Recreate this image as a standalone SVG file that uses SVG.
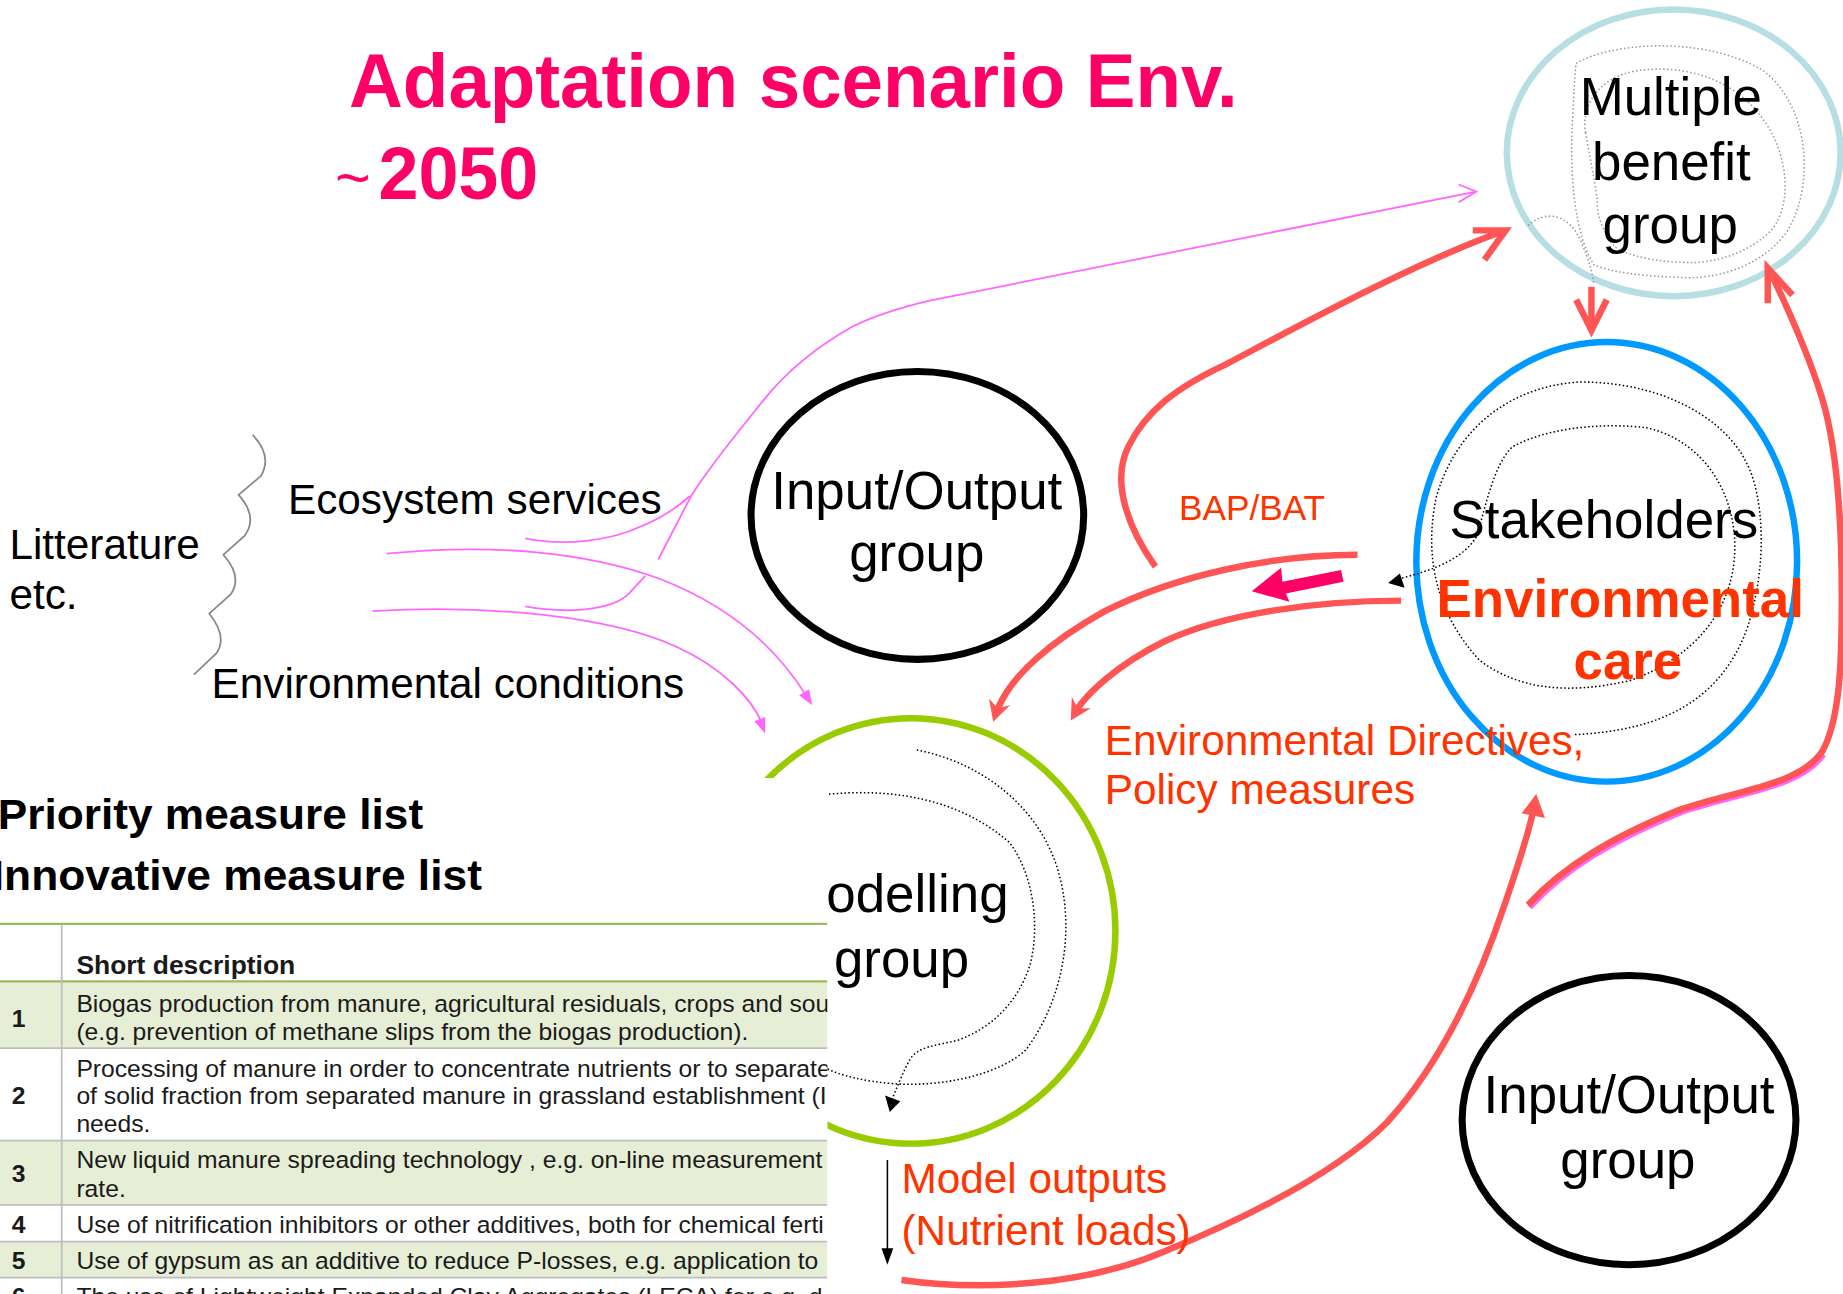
<svg xmlns="http://www.w3.org/2000/svg" width="1843" height="1294" viewBox="0 0 1843 1294">
<style>
.t{font-family:"Liberation Sans",Arial,Helvetica,sans-serif}
.b{font-weight:bold}
.node{fill:none}
.red{fill:none;stroke:#FF5555;stroke-width:5.5}
.redv{fill:none;stroke:#FF5555;stroke-width:5.5;stroke-linejoin:miter}
.redf{fill:#FF5555}
.pink{fill:none;stroke:#FF66FF;stroke-width:1.5}
.pinkf{fill:#FF66FF}
.dot{fill:none;stroke:#000;stroke-width:1.3;stroke-dasharray:1.3 2}
.dotg{fill:none;stroke:#999;stroke-width:1.3;stroke-dasharray:1.3 2}
.lbl{fill:#FF3300}
.row{fill:#E6EED6}
.grid{stroke:#BFBFBF;stroke-width:1.5}
.gline{stroke:#9BBB59;stroke-width:2}
.cell{font-size:21px;fill:#1a1a1a}
.num{font-size:21px;fill:#1a1a1a;font-weight:bold}
</style>
<defs>
<clipPath id="tclip"><rect x="0" y="662" width="704" height="440"/></clipPath>
</defs>
<rect width="1843" height="1294" fill="#fff"/>
<g transform="scale(1.17536)">

<g id="title" class="t" fill="#FF0066">
<text x="297" y="91" font-size="65" class="b" textLength="756" lengthAdjust="spacingAndGlyphs">Adaptation scenario Env.</text>
<text x="285" y="169" font-size="52">~</text>
<text x="322" y="169" font-size="63" class="b" textLength="136" lengthAdjust="spacingAndGlyphs">2050</text>
</g>

<g id="node-modelling">
<ellipse cx="775" cy="792" rx="174" ry="181" class="node" stroke="#99CC00" stroke-width="5.5"/>
<path class="dot" d="M780,638 C840,650 885,690 900,740 C915,790 905,850 873,893 C850,915 800,925 760,922 C735,920 715,915 703,909"/>
<path class="dot" d="M702,676 C760,670 817,680 859,717 C880,745 885,790 876,822 C866,852 845,874 815,885 C795,890 783,890 775,900 C768,912 762,928 758,938"/>
<polygon points="757,946 753,932 766,937" fill="#000"/>
<text class="t" x="703" y="776" font-size="45">odelling</text>
<text class="t" x="709.5" y="831" font-size="45">group</text>
</g>

<g id="table" class="t">
<rect x="0" y="662" width="704" height="440" fill="#fff"/>
<text x="-2" y="705.5" font-size="36" class="b" textLength="362" lengthAdjust="spacingAndGlyphs">Priority measure list</text>
<text x="-7" y="757" font-size="36" class="b" textLength="417" lengthAdjust="spacingAndGlyphs">Innovative measure list</text>
<g clip-path="url(#tclip)">
<rect class="row" x="0" y="835.2" width="704" height="56.6"/>
<rect class="row" x="0" y="970.5" width="704" height="54.7"/>
<rect class="row" x="0" y="1056.4" width="704" height="30.6"/>
<line class="gline" x1="0" y1="786" x2="704" y2="786"/>
<line class="gline" x1="0" y1="835" x2="704" y2="835"/>
<line class="grid" x1="0" y1="891.8" x2="704" y2="891.8"/>
<line class="grid" x1="0" y1="970.5" x2="704" y2="970.5"/>
<line class="grid" x1="0" y1="1025.2" x2="704" y2="1025.2"/>
<line class="grid" x1="0" y1="1056.4" x2="704" y2="1056.4"/>
<line class="grid" x1="0" y1="1087" x2="704" y2="1087"/>
<line class="grid" x1="52.5" y1="787" x2="52.5" y2="1101"/>
<text x="65" y="828.7" font-size="22.5" class="b" fill="#1a1a1a">Short description</text>
<text class="num" x="10" y="873.5">1</text>
<text class="num" x="10" y="939">2</text>
<text class="num" x="10" y="1006">3</text>
<text class="num" x="10" y="1049.3">4</text>
<text class="num" x="10" y="1080">5</text>
<text class="num" x="10" y="1110">6</text>
<text class="cell" x="65" y="860.7">Biogas production from manure, agricultural residuals, crops and sou</text>
<text class="cell" x="65" y="884.8">(e.g. prevention of methane slips from the biogas production).</text>
<text class="cell" x="65" y="916">Processing of manure in order to concentrate nutrients or to separate</text>
<text class="cell" x="65" y="939.3">of solid fraction from separated manure in grassland establishment (I</text>
<text class="cell" x="65" y="963.4">needs.</text>
<text class="cell" x="65" y="994">New liquid manure spreading technology , e.g. on-line measurement</text>
<text class="cell" x="65" y="1018">rate.</text>
<text class="cell" x="65" y="1049.3">Use of nitrification inhibitors or other additives, both for chemical ferti</text>
<text class="cell" x="65" y="1080">Use of gypsum as an additive to reduce P-losses, e.g. application to</text>
<text class="cell" x="65" y="1110">The use of Lightweight Expanded Clay Aggregates (LECA) for e.g. d</text>
</g>
</g>

<g id="node-multiple-benefit">
<ellipse cx="1424" cy="130" rx="142" ry="122" class="node" stroke="#B7DFE3" stroke-width="5.5"/>
<path class="dotg" d="M1341,54 C1370,36 1450,30 1500,60 C1540,90 1545,160 1519,199 C1495,230 1455,238 1429,236 C1400,235 1370,232 1356,225 C1340,200 1335,150 1338,100 C1339,80 1340,60 1341,54 Z"/>
<path class="dotg" d="M1300,192 C1315,178 1335,182 1345,205 C1352,222 1355,232 1356,242"/>
<path class="dotg" d="M1349,113 C1345,90 1360,65 1394,60 C1430,55 1470,65 1495,95 C1525,130 1525,180 1504,199 C1480,220 1450,225 1429,223 C1400,222 1380,215 1374,210 C1362,195 1358,180 1359,170 C1356,150 1352,130 1349,113 Z"/>
<g class="t" font-size="45" text-anchor="middle">
<text x="1421.5" y="98">Multiple</text>
<text x="1422" y="153">benefit</text>
<text x="1421" y="207">group</text>
</g>
</g>

<g id="node-input-output-upper">
<ellipse cx="780.5" cy="438.5" rx="141.5" ry="122.5" class="node" stroke="#000" stroke-width="6"/>
<g class="t" font-size="45" text-anchor="middle">
<text x="780" y="433">Input/Output</text>
<text x="780" y="486">group</text>
</g>
</g>

<g id="node-stakeholders">
<ellipse cx="1367" cy="478" rx="162" ry="187" class="node" stroke="#0099FF" stroke-width="5.5"/>
<path class="dot" d="M1340,625 C1400,622 1460,605 1486,536 C1505,480 1500,420 1486,394 C1470,360 1420,325 1344,325 C1290,328 1240,360 1222,423 C1212,470 1220,520 1259,562 C1290,585 1330,592 1387,579 C1440,560 1476,520 1476,465 C1476,420 1450,375 1401,364 C1370,360 1320,362 1287,380 C1270,395 1262,440 1256,457 C1245,475 1220,485 1192,492"/>
<polygon points="1181,496 1191,488 1195,500" fill="#000"/>
<text class="t" x="1364.5" y="458" font-size="45" text-anchor="middle">Stakeholders</text>
<text class="t b lbl" x="1378.5" y="525" font-size="45" text-anchor="middle">Environmental</text>
<text class="t b lbl" x="1385" y="578" font-size="45" text-anchor="middle">care</text>
</g>

<g id="node-input-output-lower">
<ellipse cx="1386" cy="953" rx="142" ry="123" class="node" stroke="#000" stroke-width="6"/>
<g class="t" font-size="45" text-anchor="middle">
<text x="1386" y="947">Input/Output</text>
<text x="1385" y="1002">group</text>
</g>
</g>

<g id="node-literature">
<text class="t" x="8" y="476" font-size="36">Litterature</text>
<text class="t" x="8" y="518" font-size="36">etc.</text>
<path d="M215,370 Q232,388 222,405 L203,421 Q220,440 208,456 L190,472 Q207,491 196,506 L178,522 Q194,542 184,556 L165,574" fill="none" stroke="#888" stroke-width="1.5"/>
<text class="t" x="245" y="437" font-size="36">Ecosystem services</text>
<text class="t" x="180" y="594" font-size="36">Environmental conditions</text>
</g>

<g id="connectors">
<path class="pink" d="M560,476 L588,422 C605,395 630,365 650,340 C670,315 695,295 725,278 C745,268 765,262 790,256 L1256,163"/>
<polyline class="pink" points="1241,157 1256,163 1241,172"/>
<path class="pink" d="M447,458 C480,465 520,460 545,448 C565,440 578,430 587,422"/>
<path class="pink" d="M447,516 C480,522 520,520 535,505 L549,490"/>
<path class="pink" d="M329,471 C420,462 500,470 560,492 C620,515 660,550 686,592"/>
<polygon class="pinkf" points="691,600 679.9,591.6 688.4,586.4"/>
<path class="pink" d="M317,520 C420,514 520,525 575,550 C615,568 640,595 648,615"/>
<polygon class="pinkf" points="651,624 641.7,613.6 651.1,610"/>

<path class="red" d="M983,482 C960,450 945,410 960,380 C975,350 1000,330 1043,310 C1100,280 1200,225 1278,197"/>
<polyline class="redv" points="1253,196 1281,196 1263,221"/>

<path class="red" d="M1155,472 C1080,472 1000,490 940,520 C895,545 860,575 849,603"/>
<polygon class="redf" points="845,614 859.4,600.1 848.7,602.6 841.5,594.3"/>
<path class="red" d="M1192,511 C1120,511 1040,522 990,546 C950,566 925,590 916,604"/>
<polygon class="redf" points="911,613 928.1,602.6 917.1,602.7 911.9,593"/>

<polygon fill="#FF0066" points="1141,485 1091,495 1090,483 1065,503 1097,512 1094,505 1143,495"/>

<line class="red" x1="1354" y1="244" x2="1354" y2="278"/>
<polyline class="redv" points="1341,255 1354,281 1367,255"/>

<path d="M1301.5,772 C1331.5,739 1373.5,714 1430.5,691 C1481.5,674 1531.5,670 1551.5,642" fill="none" stroke="#FF66FF" stroke-width="5"/>
<path class="red" d="M1300,770 C1330,737 1372,712 1429,689 C1480,672 1530,668 1550,640 C1566,612 1567,560 1567,508 C1567,440 1563,380 1550,338 C1538,300 1520,260 1506,231"/>
<polyline class="redv" points="1504,258 1504,228 1525,251"/>

<path class="red" d="M767,1089 C830,1098 920,1095 990,1065 C1070,1032 1140,995 1180,955 C1230,900 1260,830 1280,770 C1292,735 1300,710 1304,692"/>
<polygon class="redf" points="1307,675.5 1294.6,692 1314.5,696"/>

<line x1="755" y1="987" x2="755" y2="1064" stroke="#000" stroke-width="1.3"/>
<polygon points="755,1076 750,1062 760,1062" fill="#000"/>
</g>

<g id="labels" class="t lbl">
<text x="1003" y="442" font-size="30">BAP/BAT</text>
<text x="940" y="642" font-size="36">Environmental Directives,</text>
<text x="940" y="684" font-size="36">Policy measures</text>
<text x="767" y="1015" font-size="36">Model outputs</text>
<text x="767" y="1059" font-size="36">(Nutrient loads)</text>
</g>

</g>
</svg>
